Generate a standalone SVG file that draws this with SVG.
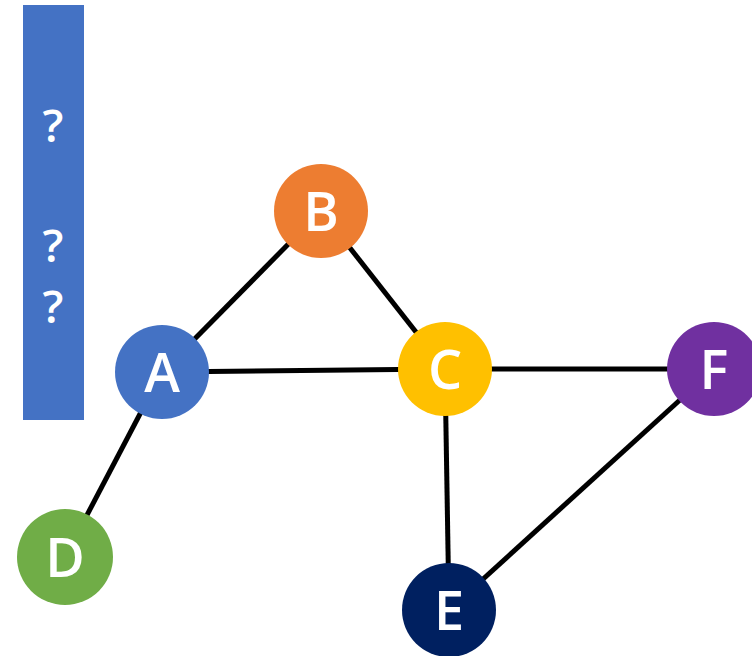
<svg xmlns="http://www.w3.org/2000/svg" width="752" height="656" viewBox="0 0 752 656">
  <style>
    .edge { stroke: #000; stroke-width: 5; fill: none; }
    .node-label { font-family: "Open Sans", "Liberation Sans", sans-serif; font-weight: 600; font-size: 54px; fill: #fff; text-anchor: middle; }
    .q { font-family: "Open Sans", "Liberation Sans", sans-serif; font-weight: 600; font-size: 46px; fill: #fff; text-anchor: middle; }
  </style>
  <rect width="752" height="656" fill="#fff"/>

  <!-- side panel -->
  <g id="panel">
    <rect x="23" y="5" width="61" height="415" fill="#4472C4"/>
    <text class="q" x="53" y="142">?</text>
    <text class="q" x="53" y="262">?</text>
    <text class="q" x="53" y="323">?</text>
  </g>

  <!-- connectors -->
  <g id="edges">
    <line class="edge" x1="162" y1="372" x2="321" y2="211"/>
    <line class="edge" x1="321" y1="211" x2="445" y2="369"/>
    <line class="edge" x1="162" y1="372" x2="445" y2="369"/>
    <line class="edge" x1="445" y1="369" x2="714" y2="369"/>
    <line class="edge" x1="445" y1="369" x2="449" y2="610"/>
    <line class="edge" x1="714" y1="369" x2="449" y2="610"/>
    <line class="edge" x1="162" y1="372" x2="65" y2="557"/>
  </g>

  <g id="node-A">
    <circle cx="162" cy="372" r="47" fill="#4472C4"/>
    <text class="node-label" x="162" y="392">A</text>
  </g>
  <g id="node-B">
    <circle cx="321" cy="211" r="47" fill="#ED7D31"/>
    <text class="node-label" x="321" y="231">B</text>
  </g>
  <g id="node-C">
    <circle cx="445" cy="369" r="47" fill="#FFC000"/>
    <text class="node-label" x="445" y="389">C</text>
  </g>
  <g id="node-D">
    <circle cx="65" cy="557" r="48" fill="#70AD47"/>
    <text class="node-label" x="65" y="577">D</text>
  </g>
  <g id="node-E">
    <circle cx="449" cy="610" r="47" fill="#002060"/>
    <text class="node-label" x="449" y="630">E</text>
  </g>
  <g id="node-F">
    <circle cx="714" cy="369" r="47" fill="#7030A0"/>
    <text class="node-label" x="714" y="389">F</text>
  </g>
</svg>
